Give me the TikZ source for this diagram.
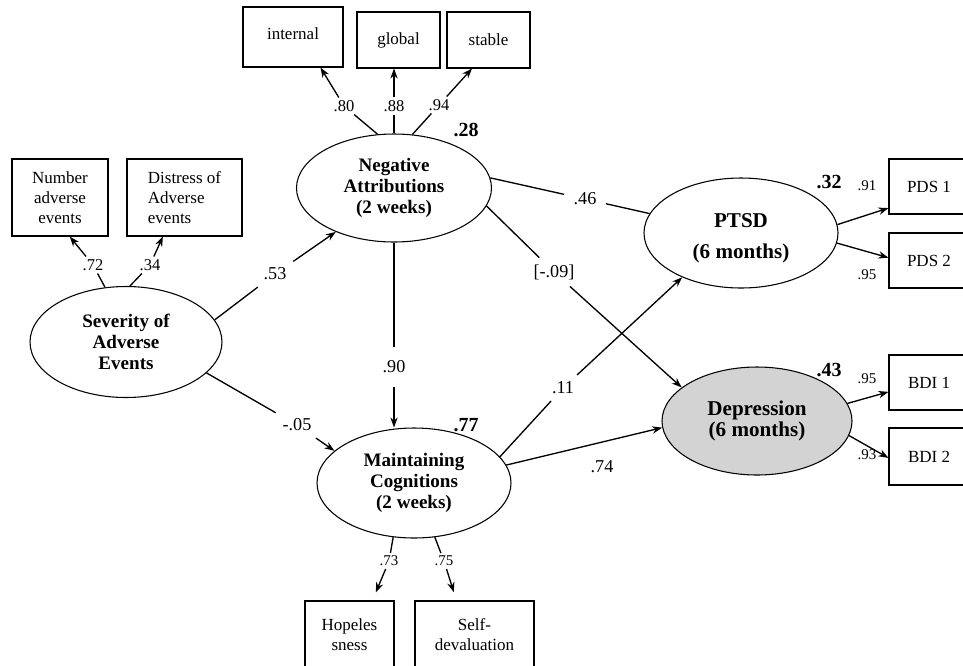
\documentclass[tikz,border=0pt]{standalone}
\usepackage{fontspec}
\setmainfont{Liberation Serif}
\usetikzlibrary{shapes.geometric,arrows.meta}
\definecolor{depgray}{RGB}{211,211,211}
\begin{document}
\begin{tikzpicture}[x=0.75pt,y=-0.75pt,
  latent/.style={ellipse,draw,line width=0.8pt,inner sep=0pt,align=center,
    font=\fontsize{14.3}{15.75}\selectfont\bfseries},
  biglatent/.style={latent,font=\fontsize{15.8}{16}\selectfont\bfseries},
  obs/.style={rectangle,draw,line width=0.8pt,inner sep=0pt,align=center,
    font=\fontsize{12.75}{15}\selectfont},
  coef/.style={inner sep=5pt,font=\fontsize{13.6}{15}\selectfont},
  scoef/.style={inner sep=2pt,font=\fontsize{12.4}{14}\selectfont},
  tcoef/.style={inner sep=2pt,font=\fontsize{11.2}{13}\selectfont},
  rsq/.style={inner sep=0pt,font=\fontsize{15}{17}\selectfont\bfseries},
  ln/.style={line width=1pt},
  arr/.style={line width=1pt,-{Stealth[length=7.5pt,width=5.5pt]}}]
\useasboundingbox (0,0) rectangle (963,665);
\fill[white] (0,0) rectangle (963,665);
\clip (0,0) rectangle (963,665);

% latent variables
\node[latent,minimum width=146.25pt,minimum height=81pt] (na) at (394,188) {Negative\\Attributions\\(2 weeks)};
\node[latent,minimum width=144pt,minimum height=83.25pt] (sev) at (126,342) {Severity of\\Adverse\\Events};
\node[latent,minimum width=145.5pt,minimum height=82.5pt] (mc) at (414,483) {Maintaining\\Cognitions\\(2 weeks)};
\node[biglatent,minimum width=145.5pt,minimum height=82.5pt] (ptsd) at (741,233) {\rule{0pt}{18.5pt}PTSD\\[7pt](6 months)};
\node[biglatent,fill=depgray,minimum width=142.5pt,minimum height=81pt] (dep) at (757,421) {Depression\\(6 months)};

% observed variables
\node[obs,minimum width=75pt,minimum height=45pt] (int) at (293,37) {\raisebox{5pt}{internal}};
\node[obs,minimum width=62.25pt,minimum height=42pt] (glob) at (398.5,40) {global};
\node[obs,minimum width=62.25pt,minimum height=42pt] (stab) at (488.5,40) {stable};
\node[obs,minimum width=72pt,minimum height=57.75pt] (num) at (60,197.5) {Number\\adverse\\events};
\node[obs,minimum width=86.25pt,minimum height=57.75pt,align=left] (dis) at (184.5,197.5) {Distress of\\Adverse\\events\hspace*{6pt}};
\node[obs,minimum width=60pt,minimum height=41.25pt] (pds1) at (929,186.5) {PDS 1};
\node[obs,minimum width=60pt,minimum height=41.25pt] (pds2) at (929,260.5) {PDS 2};
\node[obs,minimum width=60pt,minimum height=41.25pt] (bdi1) at (929,382.5) {BDI 1};
\node[obs,minimum width=60pt,minimum height=42.75pt] (bdi2) at (929,456.5) {BDI 2};
\node[obs,minimum width=66.75pt,minimum height=50.25pt] (hop) at (349.5,634.5) {Hopeles\\sness};
\node[obs,minimum width=89.25pt,minimum height=50.25pt] (self) at (474.5,634.5) {Self-\\devaluation};

% R-squared
\node[rsq] (r28) at (466,130) {.28};
\node[rsq] (r32) at (829,182) {.32};
\node[rsq] (r43) at (829,370) {.43};
\node[rsq] (r77) at (466,425) {.77};

% coefficient labels
\node[scoef] (l80) at (344,106) {.80};
\node[scoef] (l88) at (394,106) {.88};
\node[scoef] (l94) at (439,105) {.94};
\node[scoef] (l72) at (93,265) {.72};
\node[scoef] (l34) at (150,265) {.34};
\node[coef] (l53) at (275,274) {.53};
\node[coef] (l05) at (297,425) {-.05};
\node[coef,inner ysep=10pt] (l90) at (394,367) {.90};
\node[coef,inner xsep=7pt] (l46) at (585,199) {.46};
\node[coef] (l09) at (554,272) {[-.09]};
\node[coef] (l11) at (563,388) {.11};
\node[coef] (l74) at (602,467) {.74};
\node[tcoef] (l73) at (389,561) {.73};
\node[tcoef] (l75) at (444,561) {.75};
\node[tcoef] (l91) at (867,186) {.91};
\node[tcoef] (l95a) at (867,275) {.95};
\node[tcoef] (l95b) at (867,379) {.95};
\node[tcoef] (l93) at (867,455) {.93};

% indicators of Negative Attributions
\draw[ln] (na.107) -- (l80); \draw[arr] (l80) -- (int.312);
\draw[ln] (na.north) -- (l88); \draw[arr] (l88) -- (l88 |- glob.south);
\draw[ln] (na.71) -- (l94); \draw[arr] (l94) -- (stab.240);
% indicators of Severity
\draw[ln] (sev.111) -- (l72); \draw[arr] (l72) -- (num.284);
\draw[ln] (sev.86) -- (l34); \draw[arr] (l34) -- (dis.241);
% structural paths
\draw[ln] (sev.14) -- (l53); \draw[arr] (l53) -- (na.217);
\draw[ln] (sev.339) -- (l05); \draw[arr] (l05) -- (mc.158);
\draw[ln] (na.south) -- (l90); \draw[arr] (l90) -- (l90 |- mc.north);
\draw[ln] (na.6) -- (l46); \draw[ln] (l46) -- (ptsd.168);
\draw[ln] (na.349) -- (l09); \draw[arr] (l09) -- (dep.156);
\draw[ln] (mc.17) -- (l11); \draw[arr] (l11) -- (ptsd.217);
\draw[arr] (mc.11) -- (dep.184);
% indicators of Maintaining Cognitions
\draw[ln] (mc.249) -- (l73); \draw[arr,shorten >=6.5pt] (l73) -- (hop.56);
\draw[ln] (mc.291) -- (l75); \draw[arr,shorten >=6.5pt] (l75) -- (self.118);
% indicators of outcomes
\draw[arr] (ptsd.5) -- (pds1.208);
\draw[arr] (ptsd.354) -- (pds2.176);
\draw[arr] (dep.11) -- (bdi1.193);
\draw[arr] (dep.351) -- (bdi2.182);
\end{tikzpicture}
\end{document}
